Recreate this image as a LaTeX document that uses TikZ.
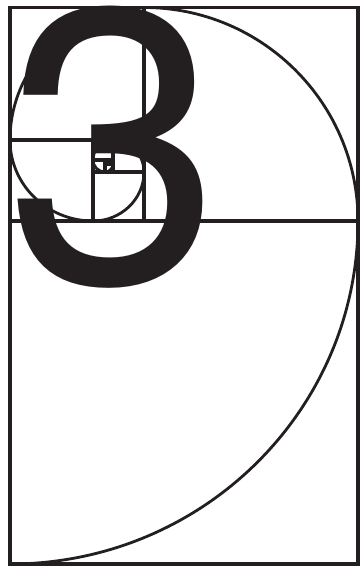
\documentclass[tikz,border=0pt]{standalone}
\usepackage{fontspec}
\newfontfamily\digitfont{TeX Gyre Heros}
\definecolor{ink}{HTML}{231F20}

\begin{document}
\begin{tikzpicture}[
  x=1pt, y=1pt,
  frame/.style={draw=ink, line width=3.2pt},
  spiral/.style={draw=ink, line width=2.8pt},
  bigdigit/.style={anchor=base west, inner sep=0pt, text=ink, font=\digitfont\fontsize{390}{390}\selectfont}
]
\useasboundingbox (0,0) rectangle (361,566);
% golden rectangle and its squares
\draw[frame] (10,2) rectangle (358,558.5);
\draw[frame] (10,345) -- (358,345);
\draw[frame] (144,345) -- (144,558.5);
\draw[frame] (10,426) -- (144,426);
\draw[frame] (93,345) -- (93,426);
\draw[frame] (93,394) -- (144,394);
\draw[frame] (113,394) -- (113,426);
\draw[frame] (93,406) -- (113,406);
\draw[frame] (105,394) -- (105,406);
\draw[frame] (105,402) -- (113,402);
% spiral
\draw[spiral] (10,2) arc[start angle=270, end angle=360, x radius=348pt, y radius=343pt]
  arc[start angle=0, end angle=90, x radius=214pt, y radius=213.5pt]
  arc[start angle=90, end angle=180, x radius=134pt, y radius=132.5pt]
  arc[start angle=180, end angle=270, x radius=83pt, y radius=81pt]
  arc[start angle=270, end angle=360, x radius=51pt, y radius=49pt]
  arc[start angle=0, end angle=90, x radius=31pt, y radius=32pt]
  arc[start angle=90, end angle=180, radius=20pt]
  arc[start angle=180, end angle=270, radius=12pt]
  arc[start angle=270, end angle=360, radius=8pt];
% the digit
\node[bigdigit] (three) at (5,283) {3};
\end{tikzpicture}
\end{document}
